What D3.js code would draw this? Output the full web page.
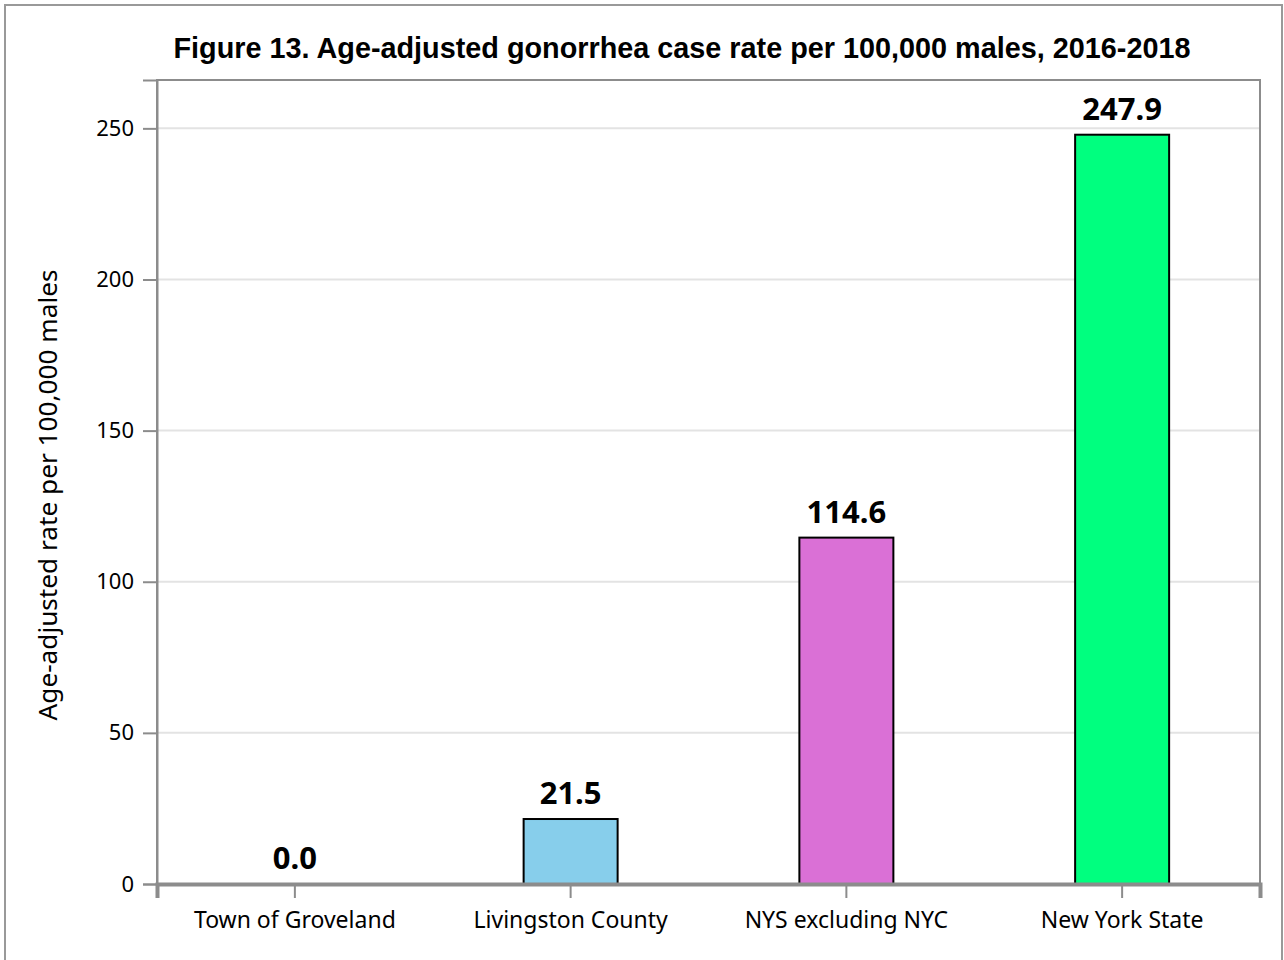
<!DOCTYPE html>
<html><head><meta charset="utf-8">
<script src="https://cdn.jsdelivr.net/npm/d3@7"></script>
<style>body{margin:0;background:#fff}</style>
</head><body>
<svg id="c" width="1284" height="960"></svg>
<script>
const categories = ["Town of Groveland", "Livingston County", "NYS excluding NYC", "New York State"];
const values = [0.0, 21.5, 114.6, 247.9];
const colors = ["#a9a9a9", "#87ceeb", "#da70d6", "#00ff7f"];
const yTicks = [0, 50, 100, 150, 200, 250];
const title = "Figure 13. Age-adjusted gonorrhea case rate per 100,000 males, 2016-2018";
const yTitle = "Age-adjusted rate per 100,000 males";

const svg = d3.select("#c");
const m = {l:157, r:1260, t:80, b:884};
const FONT = "'Noto Sans', 'Open Sans', sans-serif";
svg.append("rect").attr("x",5).attr("y",5).attr("width",1277).attr("height",1000)
  .attr("fill","#fff").attr("stroke","#999").attr("stroke-width",2);

const x = d3.scaleBand().domain(categories).range([m.l, m.r]).paddingInner(0).paddingOuter(0);
const y = d3.scaleLinear().domain([0, 266]).range([m.b, m.t]);

// gridlines
svg.append("g").selectAll("line").data(yTicks.filter(d=>d>0)).join("line")
  .attr("x1",m.l).attr("x2",m.r).attr("y1",d=>y(d)).attr("y2",d=>y(d))
  .attr("stroke","#e3e3e3").attr("stroke-width",2);

// plot frame
svg.append("rect").attr("x",m.l).attr("y",m.t).attr("width",m.r-m.l).attr("height",m.b-m.t)
  .attr("fill","none").attr("stroke","#8c8c8c").attr("stroke-width",2);

// y axis
const ya = svg.append("g").attr("transform",`translate(${m.l},0)`)
  .call(d3.axisLeft(y).tickValues(yTicks).tickSize(14).tickPadding(9));
ya.select(".domain").attr("stroke","#8c8c8c").attr("stroke-width",2);
ya.selectAll(".tick line").attr("stroke","#8c8c8c").attr("stroke-width",2);
ya.selectAll("text").attr("font-family",FONT).attr("font-size",22).attr("fill","#000");

// bars
const bw = 94;
svg.append("g").selectAll("rect").data(values).join("rect")
  .attr("x",(d,i)=>x(categories[i])+x.bandwidth()/2-bw/2)
  .attr("y",d=>y(d)).attr("width",bw).attr("height",d=>y(0)-y(d))
  .attr("fill",(d,i)=>colors[i]).attr("stroke",(d,i)=>d===0?"#888":"#000").attr("stroke-width",2);

// x axis
const xa = svg.append("g").attr("transform",`translate(0,${m.b})`)
  .call(d3.axisBottom(x).tickSize(14).tickPadding(14));
xa.select(".domain").attr("stroke","#8c8c8c").attr("stroke-width",4);
xa.selectAll(".tick line").attr("stroke","#8c8c8c").attr("stroke-width",2);
xa.selectAll("text").attr("font-family",FONT).attr("font-size",23).attr("fill","#000");

// value labels
svg.append("g").selectAll("text").data(values).join("text")
  .attr("x",(d,i)=>x(categories[i])+x.bandwidth()/2)
  .attr("y",d=>y(d)-15)
  .attr("text-anchor","middle")
  .attr("font-family",FONT).attr("font-weight","bold").attr("font-size",31)
  .text(d=>d.toFixed(1));

// title
svg.append("text").attr("x",682).attr("y",58).attr("text-anchor","middle")
  .attr("font-family","'Liberation Sans', Arial, sans-serif").attr("font-weight","bold").attr("font-size",28.8)
  .text(title);

// y title
svg.append("text").attr("transform",`translate(57,495) rotate(-90)`)
  .attr("text-anchor","middle")
  .attr("font-family",FONT).attr("font-size",26.2)
  .text(yTitle);
</script>
</body></html>
